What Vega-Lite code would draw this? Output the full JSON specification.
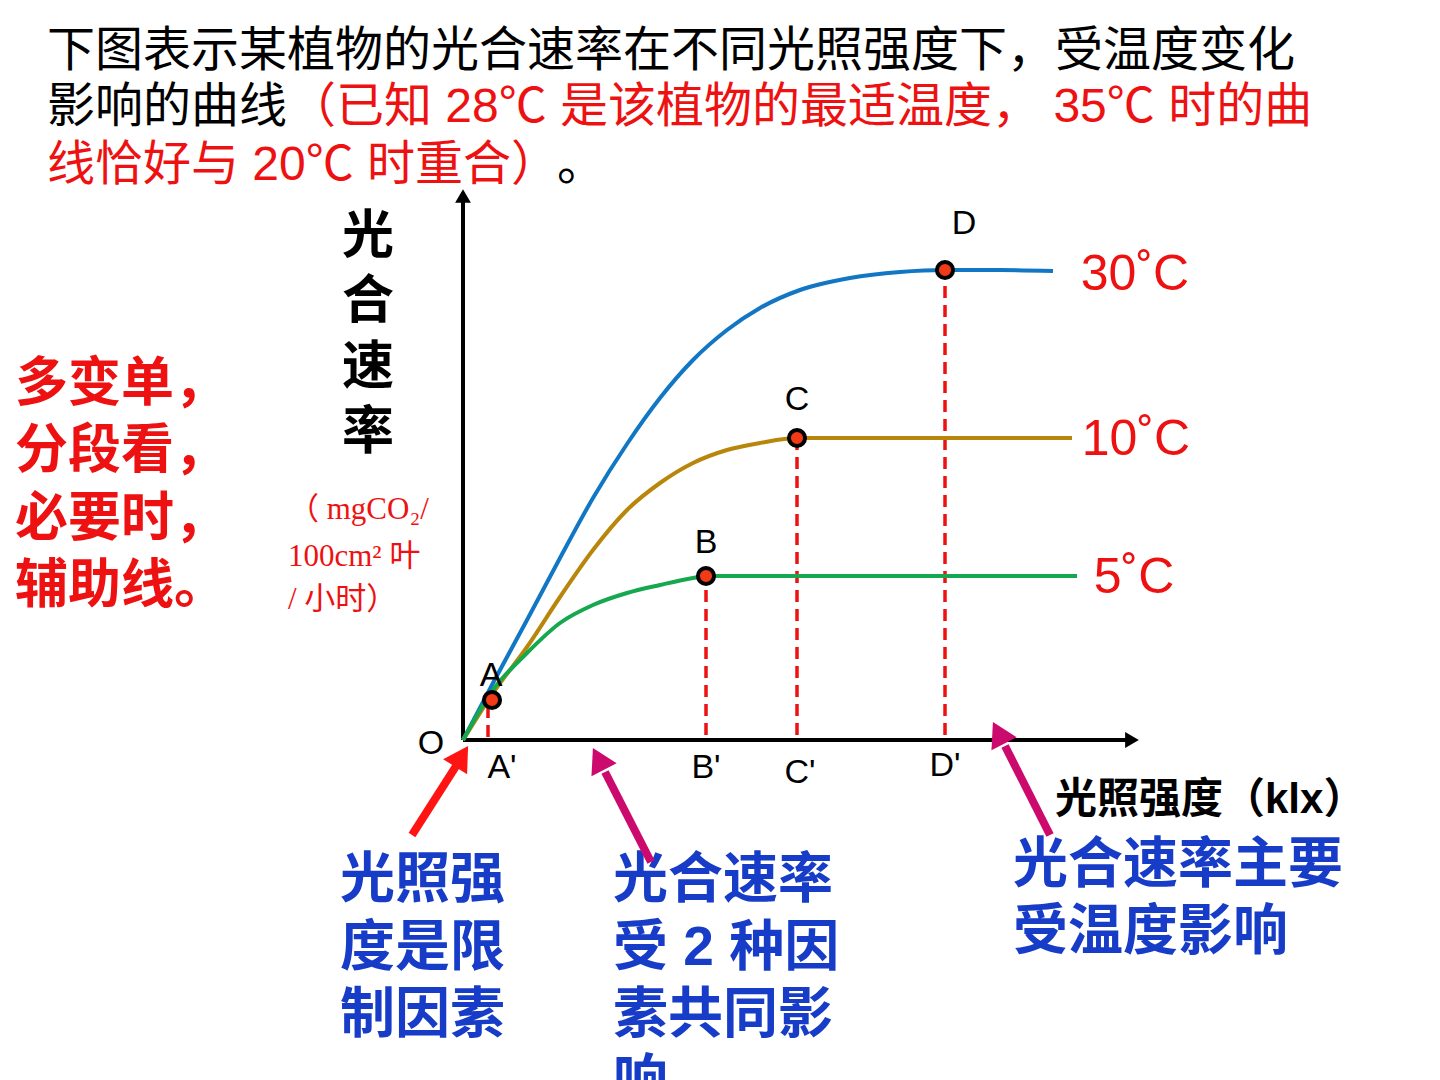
{
  "$schema": "https://vega.github.io/schema/vega-lite/v6.json",
  "width": 1440,
  "height": 1080,
  "padding": 0,
  "autosize": {"type": "none"},
  "background": "white",
  "view": {"stroke": null},
  "encoding": {
    "x": {"field": "x", "type": "quantitative", "scale": {"domain": [-46.3, 97.7], "nice": false, "zero": false}, "axis": null},
    "y": {"field": "y", "type": "quantitative", "scale": {"domain": [-34, 74], "nice": false, "zero": false}, "axis": null}
  },
  "layer": [
    {
      "data": {"values": [{"x": 0, "y": 0, "y2": 54.2}]},
      "mark": {"type": "rule", "color": "black", "strokeWidth": 4},
      "encoding": {"y2": {"field": "y2"}}
    },
    {
      "data": {"values": [{"x": 0, "x2": 66.4, "y": 0}]},
      "mark": {"type": "rule", "color": "black", "strokeWidth": 4},
      "encoding": {"x2": {"field": "x2"}}
    },
    {
      "data": {"values": [{"x": 0, "y": 54.4}]},
      "mark": {"type": "point", "shape": "triangle-up", "filled": true, "color": "black", "size": 250, "opacity": 1},
      "encoding": {}
    },
    {
      "data": {"values": [{"x": 66.9, "y": 0}]},
      "mark": {"type": "point", "shape": "triangle-right", "filled": true, "color": "black", "size": 250, "opacity": 1},
      "encoding": {}
    },
    {
      "data": {"values": [
        {"point": "A'", "x": 2.5, "y": 0.3, "y2": 3.8},
        {"point": "B'", "x": 24.3, "y": 0.5, "y2": 16.2},
        {"point": "C'", "x": 33.4, "y": 0.5, "y2": 30.0},
        {"point": "D'", "x": 48.2, "y": 0.5, "y2": 46.8}
      ]},
      "mark": {"type": "rule", "color": "#ee1111", "strokeWidth": 3.5, "strokeDash": [12, 7]},
      "encoding": {"y2": {"field": "y2"}}
    },
    {
      "data": {"values": [
        {"t": "30℃", "x": 0, "y": 0}, {"t": "30℃", "x": 3.0, "y": 5.7}, {"t": "30℃", "x": 6.4, "y": 12.0},
        {"t": "30℃", "x": 9.7, "y": 18.2}, {"t": "30℃", "x": 13.0, "y": 24.2}, {"t": "30℃", "x": 16.4, "y": 29.6},
        {"t": "30℃", "x": 19.7, "y": 34.2}, {"t": "30℃", "x": 23.0, "y": 38.0}, {"t": "30℃", "x": 26.4, "y": 41.0},
        {"t": "30℃", "x": 29.7, "y": 43.2}, {"t": "30℃", "x": 33.7, "y": 45.0}, {"t": "30℃", "x": 38.7, "y": 46.2},
        {"t": "30℃", "x": 43.7, "y": 46.8}, {"t": "30℃", "x": 48.2, "y": 47.0}, {"t": "30℃", "x": 53.7, "y": 47.0},
        {"t": "30℃", "x": 59.0, "y": 46.9},
        {"t": "10℃", "x": 0, "y": 0}, {"t": "10℃", "x": 3.0, "y": 4.7}, {"t": "10℃", "x": 6.4, "y": 9.3},
        {"t": "10℃", "x": 9.7, "y": 14.3}, {"t": "10℃", "x": 13.0, "y": 19.0}, {"t": "10℃", "x": 16.4, "y": 23.0},
        {"t": "10℃", "x": 19.7, "y": 25.7}, {"t": "10℃", "x": 23.0, "y": 27.7}, {"t": "10℃", "x": 26.4, "y": 29.0},
        {"t": "10℃", "x": 29.7, "y": 29.7}, {"t": "10℃", "x": 33.4, "y": 30.2}, {"t": "10℃", "x": 45.0, "y": 30.2},
        {"t": "10℃", "x": 60.9, "y": 30.2},
        {"t": "5℃", "x": 0, "y": 0}, {"t": "5℃", "x": 3.0, "y": 5.0}, {"t": "5℃", "x": 6.4, "y": 8.7},
        {"t": "5℃", "x": 9.7, "y": 11.7}, {"t": "5℃", "x": 13.0, "y": 13.5}, {"t": "5℃", "x": 16.4, "y": 14.7},
        {"t": "5℃", "x": 19.7, "y": 15.5}, {"t": "5℃", "x": 23.0, "y": 16.2}, {"t": "5℃", "x": 24.3, "y": 16.4},
        {"t": "5℃", "x": 40.0, "y": 16.4}, {"t": "5℃", "x": 61.4, "y": 16.4}
      ]},
      "mark": {"type": "line", "strokeWidth": 4, "interpolate": "monotone"},
      "encoding": {
        "color": {"field": "t", "type": "nominal", "scale": {"domain": ["30℃", "10℃", "5℃"], "range": ["#1177c4", "#b8860b", "#16a84e"]}, "legend": null}
      }
    },
    {
      "data": {"values": [
        {"point": "A", "x": 2.9, "y": 4.0},
        {"point": "B", "x": 24.3, "y": 16.4},
        {"point": "C", "x": 33.4, "y": 30.2},
        {"point": "D", "x": 48.2, "y": 47.0}
      ]},
      "mark": {"type": "point", "shape": "circle", "filled": true, "fill": "#f23a16", "stroke": "black", "strokeWidth": 4, "size": 260, "opacity": 1},
      "encoding": {}
    },
    {
      "data": {"values": [
        {"text": "A", "x": 2.8, "y": 6.4},
        {"text": "B", "x": 24.3, "y": 19.7},
        {"text": "C", "x": 33.4, "y": 34.0},
        {"text": "D", "x": 50.1, "y": 51.6},
        {"text": "O", "x": -3.2, "y": -0.4},
        {"text": "A'", "x": 3.9, "y": -2.8},
        {"text": "B'", "x": 24.3, "y": -2.8},
        {"text": "C'", "x": 33.7, "y": -3.3},
        {"text": "D'", "x": 48.2, "y": -2.6}
      ]},
      "mark": {"type": "text", "font": "Liberation Sans", "fontSize": 34, "color": "black", "align": "center", "baseline": "middle"},
      "encoding": {"text": {"field": "text"}}
    },
    {
      "data": {"values": [
        {"text": "30˚C", "x": 67.2, "y": 46.5},
        {"text": "10˚C", "x": 67.3, "y": 30.0},
        {"text": "5˚C", "x": 67.1, "y": 16.2}
      ]},
      "mark": {"type": "text", "font": "Liberation Sans", "fontSize": 50, "color": "#ee1111", "align": "center", "baseline": "middle"},
      "encoding": {"text": {"field": "text"}}
    },
    {
      "data": {"values": [
        {"text": "下图表示某植物的光合速率在不同光照强度下，受温度变化", "x": -41.6, "y": 68.8},
        {"text": "影响的曲线", "x": -41.6, "y": 63.2},
        {"text": "。", "x": 9.4, "y": 57.4}
      ]},
      "mark": {"type": "text", "font": "Liberation Sans, Noto Sans CJK SC", "fontSize": 48, "color": "black", "align": "left", "baseline": "middle"},
      "encoding": {"text": {"field": "text"}}
    },
    {
      "data": {"values": [
        {"text": "（已知 28℃ 是该植物的最适温度， 35℃ 时的曲", "x": -17.5, "y": 63.2},
        {"text": "线恰好与 20℃ 时重合）", "x": -41.6, "y": 57.4}
      ]},
      "mark": {"type": "text", "font": "Liberation Sans, Noto Sans CJK SC", "fontSize": 48, "color": "#ee1111", "align": "left", "baseline": "middle"},
      "encoding": {"text": {"field": "text"}}
    },
    {
      "data": {"values": [
        {"text": "多变单，", "x": -44.8, "y": 35.5},
        {"text": "分段看，", "x": -44.8, "y": 28.8},
        {"text": "必要时，", "x": -44.8, "y": 22.0},
        {"text": "辅助线。", "x": -44.8, "y": 15.3}
      ]},
      "mark": {"type": "text", "font": "Noto Sans CJK SC", "fontSize": 53, "fontWeight": "bold", "color": "#ee1111", "align": "left", "baseline": "middle"},
      "encoding": {"text": {"field": "text"}}
    },
    {
      "data": {"values": [
        {"text": ["光", "合", "速", "率"], "x": -9.5, "y": 50.3}
      ]},
      "mark": {"type": "text", "font": "Noto Sans CJK SC", "fontSize": 52, "fontWeight": "bold", "color": "black", "align": "center", "baseline": "middle", "lineHeight": 65.3},
      "encoding": {"text": {"field": "text"}}
    },
    {
      "data": {"values": [
        {"text": "（ mgCO₂/", "x": -17.5, "y": 23.0},
        {"text": "100cm² 叶", "x": -17.5, "y": 18.3},
        {"text": "/ 小时）", "x": -17.5, "y": 14.0}
      ]},
      "mark": {"type": "text", "font": "Liberation Serif, Noto Sans CJK SC", "fontSize": 31, "color": "#ee1111", "align": "left", "baseline": "middle"},
      "encoding": {"text": {"field": "text"}}
    },
    {
      "data": {"values": [{"text": "光照强度（klx）", "x": 59.2, "y": -6.0}]},
      "mark": {"type": "text", "font": "Liberation Sans, Noto Sans CJK SC", "fontSize": 42, "fontWeight": "bold", "color": "black", "align": "left", "baseline": "middle"},
      "encoding": {"text": {"field": "text"}}
    },
    {
      "data": {"values": [
        {"text": "光照强", "x": -12.3, "y": -14.0},
        {"text": "度是限", "x": -12.3, "y": -20.8},
        {"text": "制因素", "x": -12.3, "y": -27.5},
        {"text": "光合速率", "x": 15.0, "y": -14.0},
        {"text": "受 2 种因", "x": 15.0, "y": -20.8},
        {"text": "素共同影", "x": 15.0, "y": -27.5},
        {"text": "响", "x": 15.0, "y": -34.2},
        {"text": "光合速率主要", "x": 55.0, "y": -12.5},
        {"text": "受温度影响", "x": 55.0, "y": -19.2}
      ]},
      "mark": {"type": "text", "font": "Liberation Sans, Noto Sans CJK SC", "fontSize": 55, "fontWeight": "bold", "color": "#163cc8", "align": "left", "baseline": "middle"},
      "encoding": {"text": {"field": "text"}}
    },
    {
      "data": {"values": [{"x": -5.1, "y": -9.5, "x2": -0.5, "y2": -2.3}]},
      "mark": {"type": "rule", "color": "#ff1414", "strokeWidth": 8},
      "encoding": {"x2": {"field": "x2"}, "y2": {"field": "y2"}}
    },
    {
      "data": {"values": [{"x": -0.14, "y": -1.63}]},
      "mark": {"type": "point", "shape": "triangle-up", "filled": true, "color": "#ff1414", "size": 800, "angle": 32, "opacity": 1},
      "encoding": {}
    },
    {
      "data": {"values": [
        {"x": 18.8, "y": -12.2, "x2": 14.2, "y2": -3.2},
        {"x": 58.7, "y": -9.5, "x2": 54.2, "y2": -0.6}
      ]},
      "mark": {"type": "rule", "color": "#cc0a6e", "strokeWidth": 8},
      "encoding": {"x2": {"field": "x2"}, "y2": {"field": "y2"}}
    },
    {
      "data": {"values": [{"x": 13.55, "y": -1.88}, {"x": 53.55, "y": 0.72}]},
      "mark": {"type": "point", "shape": "triangle-up", "filled": true, "color": "#cc0a6e", "size": 800, "angle": 333, "opacity": 1},
      "encoding": {}
    }
  ]
}
